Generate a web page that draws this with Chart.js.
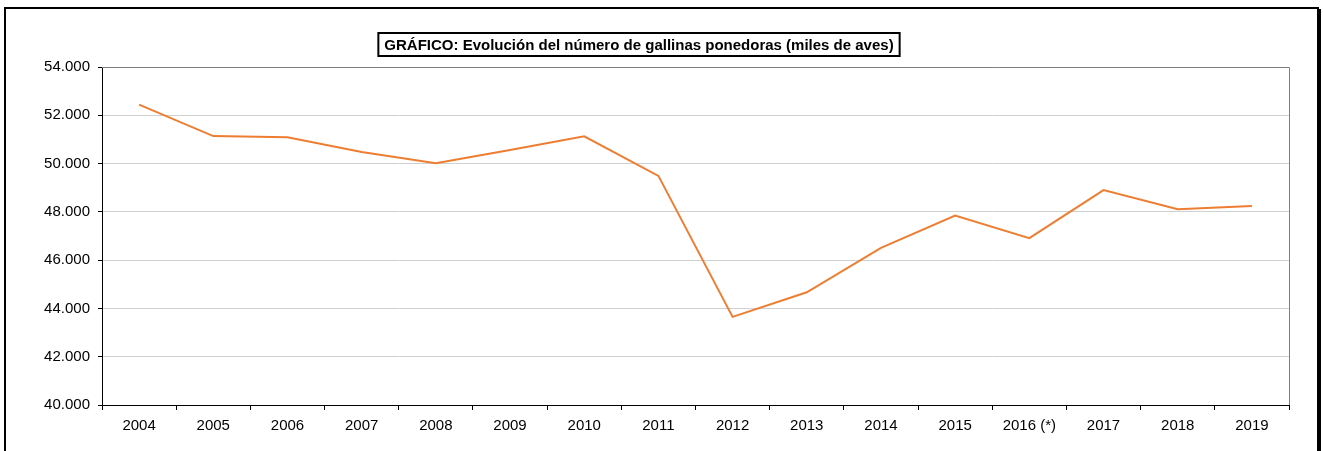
<!DOCTYPE html>
<html>
<head>
<meta charset="utf-8">
<script src="https://cdn.jsdelivr.net/npm/chart.js@4.4.0/dist/chart.umd.min.js"></script>
<style>
  html, body { margin: 0; padding: 0; background: #fff; overflow: hidden; }
  #frame {
    position: absolute; left: 4px; top: 7px; width: 1311px; height: 470px;
    border: 2px solid #000; box-shadow: 2px 2px 0 #000;
  }
  #wrap { position: absolute; left: 0; top: 0; width: 1323px; height: 451px; }
</style>
</head>
<body>
<div id="frame"></div>
<div id="wrap"><canvas id="myChart" width="1323" height="451"></canvas></div>
<script>
// años
const years = ['2004', '2005', '2006', '2007', '2008', '2009', '2010', '2011',
  '2012', '2013', '2014', '2015', '2016 (*)', '2017', '2018', '2019'];
// miles de aves
const gallinas = [52440, 51140, 51090, 50480, 50010, 50560, 51130, 49490,
  43650, 44670, 46510, 47850, 46910, 48900, 48110, 48240];
const yTicks = [40000, 42000, 44000, 46000, 48000, 50000, 52000, 54000];
const titleText = 'GRÁFICO: Evolución del número de gallinas ponedoras (miles de aves)';

const fmt = v => (v / 1000).toFixed(3);
const FONT = '"Liberation Sans", Arial, sans-serif';

// caja del título + borde gris del área
const boxedTitle = {
  id: 'boxedTitle',
  afterDraw(chart, args, opts) {
    const ctx = chart.ctx;
    const a = chart.chartArea;
    ctx.save();
    // borde superior y derecho del área de trazado
    ctx.strokeStyle = '#808080';
    ctx.lineWidth = 1;
    ctx.beginPath();
    ctx.moveTo(a.left, a.top + 0.5);
    ctx.lineTo(a.right + 0.5, a.top + 0.5);
    ctx.lineTo(a.right + 0.5, a.bottom);
    ctx.stroke();
    // titulo
    ctx.font = 'bold 15px ' + FONT;
    ctx.textAlign = 'center';
    ctx.textBaseline = 'middle';
    const w = ctx.measureText(opts.text).width;
    ctx.fillStyle = '#fff';
    ctx.fillRect(opts.x - w / 2 - 6, opts.y - 11.5, w + 12, 23);
    ctx.strokeStyle = '#000';
    ctx.lineWidth = 2;
    ctx.strokeRect(opts.x - w / 2 - 6, opts.y - 11.5, w + 12, 23);
    ctx.fillStyle = '#000';
    ctx.fillText(opts.text, opts.x, opts.y + 1);
    ctx.restore();
  }
};

const ctx = document.getElementById('myChart').getContext('2d');
const myChart = new Chart(ctx, {
  type: 'line',
  data: {
    labels: years,
    datasets: [{
      label: 'Gallinas ponedoras',
      data: gallinas,
      borderColor: '#ED7D31',
      backgroundColor: '#ED7D31',
      borderWidth: 2,
      pointRadius: 0,
      tension: 0
    }]
  },
  options: {
    responsive: false,
    animation: false,
    layout: { padding: { top: 67, right: 34, left: 0, bottom: 0 } },
    plugins: {
      legend: { display: false },
      tooltip: { enabled: false },
      boxedTitle: { text: titleText, x: 639, y: 44.5 }
    },
    scales: {
      x: {
        offset: true,
        afterFit: s => { s.height = 46; },
        grid: { offset: true, drawOnChartArea: false, tickLength: 5, tickColor: '#000' },
        border: { color: '#000', width: 1 },
        ticks: {
          color: '#000', maxRotation: 0, autoSkip: false, padding: 7,
          font: { family: FONT, size: 15 }
        }
      },
      y: {
        min: 40000,
        max: 54000,
        afterFit: s => { s.width = 102; },
        afterBuildTicks: s => { s.ticks = yTicks.map(v => ({ value: v })); },
        grid: {
          color: c => c.tick && c.tick.value === 54000 ? '#808080' : '#d0d0d0',
          tickLength: 4, tickColor: '#000'
        },
        border: { color: '#000', width: 1 },
        ticks: {
          color: '#000', padding: 8,
          font: { family: FONT, size: 15 },
          callback: v => fmt(v)
        }
      }
    }
  },
  plugins: [boxedTitle]
});
</script>
</body>
</html>
